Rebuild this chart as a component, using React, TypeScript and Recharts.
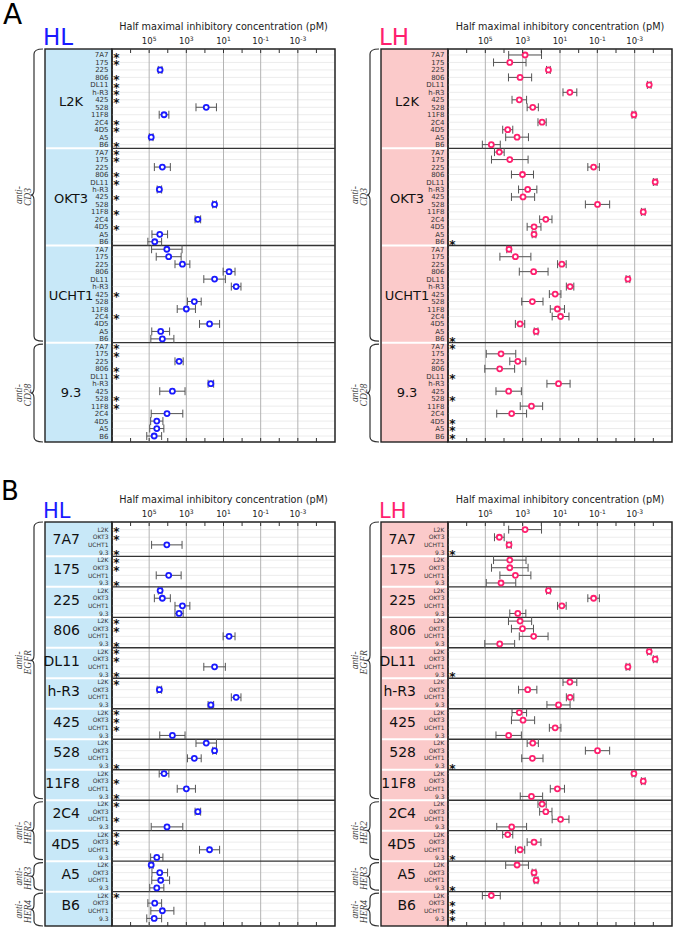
import {
  ScatterChart, Scatter, XAxis, YAxis, CartesianGrid, ErrorBar,
  ReferenceLine, ReferenceArea
} from 'recharts'

const antibodies = ['7A7', '175', '225', '806', 'DL11', 'h-R3', '425', '528', '11F8', '2C4', '4D5', 'A5', 'B6']
const cd3Antibodies = ['L2K', 'OKT3', 'UCHT1', '9.3']
const decadeTicks = [6, 5, 4, 3, 2, 1, 0, -1, -2, -3, -4]
const labeledDecades = [5, 3, 1, -1, -3]

// log10 of IC50 (pM), one entry per antibody above; null = not determined (*)
// error = half width of the bar, in decades
const hlL2K = [null, null, 4.41, null, null, null, null, 1.93, 4.2, null, null, 4.89, null]
const hlL2KErr = [0, 0, 0.1, 0, 0, 0, 0, 0.55, 0.26, 0, 0, 0.1, 0]
const hlOKT3 = [null, null, 4.29, null, null, 4.45, null, 1.48, null, 2.38, null, 4.43, 4.7]
const hlOKT3Err = [0, 0, 0.43, 0, 0, 0.12, 0, 0.1, 0, 0.15, 0, 0.42, 0.37]
const hlUCHT1 = [4.05, 3.95, 3.21, 0.7, 1.48, 0.32, null, 2.57, 3.0, null, 1.75, 4.38, 4.29]
const hlUCHT1Err = [0.82, 0.67, 0.4, 0.32, 0.58, 0.26, 0, 0.37, 0.49, 0, 0.54, 0.48, 0.62]
const hl93 = [null, null, 3.39, null, null, 1.68, 3.75, null, null, 4.04, 4.59, 4.59, 4.73]
const hl93Err = [0, 0, 0.22, 0, 0, 0.15, 0.68, 0, 0, 0.85, 0.33, 0.38, 0.4]

const lhL2K = [2.87, 3.69, 1.62, 3.14, -3.78, 0.47, 3.18, 2.46, -2.96, 1.96, 3.8, 3.3, 4.68]
const lhL2KErr = [0.88, 0.87, 0.1, 0.62, 0.1, 0.37, 0.39, 0.3, 0.1, 0.22, 0.27, 0.61, 0.48]
const lhOKT3 = [4.25, 3.69, -0.8, 3.01, -4.1, 2.73, 2.98, -1.01, -3.46, 1.76, 2.39, 2.39, null]
const lhOKT3Err = [0.26, 0.98, 0.31, 0.59, 0.1, 0.49, 0.62, 0.65, 0.1, 0.33, 0.37, 0.1, 0]
const lhUCHT1 = [3.73, 3.39, 0.9, 2.41, -2.64, 0.46, 1.26, 2.48, 1.14, 0.97, 3.14, 2.28, null]
const lhUCHT1Err = [0.12, 0.83, 0.23, 0.77, 0.1, 0.2, 0.31, 0.57, 0.38, 0.45, 0.25, 0.1, 0]
const lh93 = [null, 4.16, 3.26, 4.23, null, 1.08, 3.75, null, 2.53, 3.59, null, null, null]
const lh93Err = [0, 0.79, 0.43, 0.8, 0, 0.62, 0.68, 0, 0.6, 0.8, 0, 0, 0]

const hlSeries = [[hlL2K, hlL2KErr], [hlOKT3, hlOKT3Err], [hlUCHT1, hlUCHT1Err], [hl93, hl93Err]]
const lhSeries = [[lhL2K, lhL2KErr], [lhOKT3, lhOKT3Err], [lhUCHT1, lhUCHT1Err], [lh93, lh93Err]]

const bracesA = [{ label: 'CD3', from: 0, to: 38 }, { label: 'CD28', from: 39, to: 51 }]
const bracesB = [
  { label: 'EGFR', from: 0, to: 35 },
  { label: 'HER2', from: 36, to: 43 },
  { label: 'HER3', from: 44, to: 47 },
  { label: 'HER4', from: 48, to: 51 },
]

const BLUE = '#1a1aff'
const PINK = '#ff1f6e'
const FONT = 'DejaVu Sans, Verdana, sans-serif'

type Row = { label: string; v: number | null; e: number }

function buildRows(mode: 'A' | 'B', series: (number | null)[][][]): Row[] {
  if (mode === 'A') {
    return cd3Antibodies.flatMap((_, g) =>
      antibodies.map((a, i) => ({ label: a, v: series[g][0][i] as number | null, e: series[g][1][i] as number })))
  }
  return antibodies.flatMap((_, i) =>
    cd3Antibodies.map((c, g) => ({ label: c, v: series[g][0][i] as number | null, e: series[g][1][i] as number })))
}

const panels = [
  { id: 'A-HL', mode: 'A' as const, side: 'HL', color: BLUE, bg: '#c8e8f8', plotLeft: 112, plotRight: 335, plotTop: 49, plotBottom: 442, dom: [-0.8, 51.8], series: hlSeries },
  { id: 'A-LH', mode: 'A' as const, side: 'LH', color: PINK, bg: '#fbcaca', plotLeft: 448, plotRight: 672, plotTop: 49, plotBottom: 442, dom: [-0.8, 51.8], series: lhSeries },
  { id: 'B-HL', mode: 'B' as const, side: 'HL', color: BLUE, bg: '#c8e8f8', plotLeft: 112, plotRight: 335, plotTop: 522, plotBottom: 926, dom: [-1, 52], series: hlSeries },
  { id: 'B-LH', mode: 'B' as const, side: 'LH', color: PINK, bg: '#fbcaca', plotLeft: 448, plotRight: 672, plotTop: 522, plotBottom: 926, dom: [-1, 52], series: lhSeries },
]
type Panel = typeof panels[number]

const rowY = (p: Panel, r: number) =>
  p.plotTop + (r - p.dom[0]) * (p.plotBottom - p.plotTop) / (p.dom[1] - p.dom[0])

function DecadeTick(props: any) {
  const { x, y, payload, plotH } = props
  const v = payload.value
  const labeled = labeledDecades.includes(v)
  return (
    <g>
      <line x1={x} x2={x} y1={y} y2={y + 4} stroke="#333" strokeWidth={1} />
      <line x1={x} x2={x} y1={y + plotH} y2={y + plotH - 4} stroke="#333" strokeWidth={1} />
      {labeled && (
        <text x={x} y={y - 5} textAnchor="middle" fontSize={8.5} fontFamily={FONT} fill="#222">
          <tspan>10</tspan>
          <tspan dy={-3.5} fontSize={6}>{String(v)}</tspan>
        </text>
      )}
    </g>
  )
}

function RowTick(props: any) {
  const { x, y, payload, rows, fs } = props
  const row: Row = rows[payload.value]
  if (!row) return <g />
  return (
    <g>
      <text x={x - 3.5} y={y + fs * 0.36} textAnchor="end" fontSize={fs} fontFamily={FONT} fill="#333">
        {row.label}
      </text>
      {row.v == null && (
        <text x={x + 4.5} y={y + 6.8} textAnchor="middle" fontSize={12} fontWeight="bold"
          fontFamily={FONT} fill="#111">*</text>
      )}
    </g>
  )
}

function PanelChart({ p }: { p: Panel }) {
  const rows = buildRows(p.mode, p.series)
  const points = rows
    .map((r, i) => (r.v == null ? null : { x: r.v, y: i, err: r.e }))
    .filter(Boolean)
  const size = p.mode === 'A' ? 13 : 4
  const separators = Array.from({ length: rows.length / size - 1 }, (_, k) => (k + 1) * size - 0.5)
  const plotH = p.plotBottom - p.plotTop
  const width = p.plotRight - p.plotLeft + 115
  const height = plotH + 52
  const fs = p.mode === 'A' ? 7 : 6

  return (
    <div style={{ position: 'absolute', left: p.plotLeft - 112, top: p.plotTop - 49 }}>
      <ScatterChart width={width} height={height} margin={{ top: 35, right: 3, bottom: 3, left: 0 }}>
        <CartesianGrid vertical={false} stroke="#ececec" />
        <XAxis
          type="number" dataKey="x" orientation="top" height={14}
          domain={[-5, 7]} reversed allowDataOverflow
          ticks={decadeTicks} interval={0}
          tickLine={false} axisLine={false} tickSize={0} tickMargin={0}
          tick={(t: any) => <DecadeTick {...t} plotH={plotH} />}
        />
        <YAxis
          type="number" dataKey="y" width={112}
          domain={p.dom} reversed allowDataOverflow
          ticks={rows.map((_, i) => i)} interval={0}
          tickLine={false} axisLine={false} tickSize={0} tickMargin={0}
          tick={(t: any) => <RowTick {...t} rows={rows} fs={fs} />}
        />
        {labeledDecades.map(d => (
          <ReferenceLine key={'g' + d} x={d} stroke="#b4b4b4" strokeWidth={1} />
        ))}
        {separators.map(s => (
          <ReferenceLine key={'s' + s} y={s} stroke="#333" strokeWidth={1.3} />
        ))}
        <Scatter
          data={points as any[]}
          isAnimationActive={false}
          shape={(s: any) => (
            <circle cx={s.cx} cy={s.cy} r={2.5} fill="#fff" stroke={p.color} strokeWidth={1.8} />
          )}
        >
          <ErrorBar dataKey="err" direction="x" width={4} stroke="#555" strokeWidth={1} />
        </Scatter>
        <ReferenceArea
          x1={7} x2={-5} y1={p.dom[0]} y2={p.dom[1]}
          fill="none" stroke="#222" strokeWidth={1.5} ifOverflow="visible"
        />
      </ScatterChart>
    </div>
  )
}

function bracePath(x0: number, xr: number, top: number, bot: number) {
  const mid = (top + bot) / 2
  const r = Math.min(5, (bot - top) / 4)
  const xt = x0 - 3
  return `M${xr},${top} Q${x0},${top} ${x0},${top + r} L${x0},${mid - r} Q${x0},${mid} ${xt},${mid} ` +
    `Q${x0},${mid} ${x0},${mid + r} L${x0},${bot - r} Q${x0},${bot} ${xr},${bot}`
}

function PanelDecor({ p }: { p: Panel }) {
  const colLeft = p.plotLeft - 67
  const size = p.mode === 'A' ? 13 : 4
  const names = p.mode === 'A' ? cd3Antibodies : antibodies
  const braces = p.mode === 'A' ? bracesA : bracesB
  const last = names.length * size - 1
  const titleY = p.mode === 'A' ? 45 : 518
  const titleSize = p.mode === 'A' ? 23 : 21
  return (
    <g>
      <rect x={colLeft} y={p.plotTop} width={p.plotLeft - colLeft} height={p.plotBottom - p.plotTop}
        fill={p.bg} stroke="#222" strokeWidth={1.4} />
      {names.slice(1).map((_, k) => {
        const y = rowY(p, (k + 1) * size - 0.5)
        return <line key={k} x1={colLeft + 1} x2={p.plotLeft - 1} y1={y} y2={y} stroke="#fff" strokeWidth={2} />
      })}
      {names.map((n, g) => p.mode === 'A' ? (
        <text key={n} x={colLeft + 26} y={rowY(p, g * size + 6.2) + 4.7} textAnchor="middle"
          fontSize={13} fontFamily={FONT} fill="#111">{n}</text>
      ) : (
        <text key={n} x={colLeft + 35} y={rowY(p, g * size + 1.2) + 5} textAnchor="end"
          fontSize={14} fontFamily={FONT} fill="#111">{n}</text>
      ))}
      {braces.map(b => {
        const top = b.from === 0 ? p.plotTop : rowY(p, b.from - 0.5) + 1.5
        const bot = b.to === last ? p.plotBottom : rowY(p, b.to + 0.5) - 1.5
        const mid = (top + bot) / 2
        return (
          <g key={b.label}>
            <path d={bracePath(colLeft - 11, colLeft - 2, top, bot)} fill="none" stroke="#333" strokeWidth={1.2} />
            <text transform={`translate(${colLeft - 23.5},${mid}) rotate(-90)`} textAnchor="middle"
              fontSize={9.5} fontStyle="italic" fontFamily="Liberation Serif, serif" fill="#444">anti-</text>
            <text transform={`translate(${colLeft - 14},${mid + 2}) rotate(-90)`} textAnchor="middle"
              fontSize={9.5} fontStyle="italic" fontFamily="Liberation Serif, serif" fill="#444">{b.label}</text>
          </g>
        )
      })}
      <text x={colLeft - 2} y={titleY} fontSize={titleSize} fontFamily={FONT} fill={p.color}>{p.side}</text>
      <text x={(p.plotLeft + p.plotRight) / 2} y={p.plotTop - 19} textAnchor="middle"
        fontSize={9.7} fontFamily={FONT} fill="#222">Half maximal inhibitory concentration (pM)</text>
    </g>
  )
}

export default function App() {
  return (
    <div style={{ position: 'absolute', left: 0, top: 0, width: 675, height: 929, background: '#fff' }}>
      <svg width={675} height={929} style={{ position: 'absolute', left: 0, top: 0 }}>
        <text x={3} y={24} fontSize={28} fontFamily={FONT} fill="#000">A</text>
        <text x={1} y={500} fontSize={26} fontFamily={FONT} fill="#000">B</text>
        {panels.map(p => <PanelDecor key={p.id} p={p} />)}
      </svg>
      {panels.map(p => <PanelChart key={p.id} p={p} />)}
    </div>
  )
}
